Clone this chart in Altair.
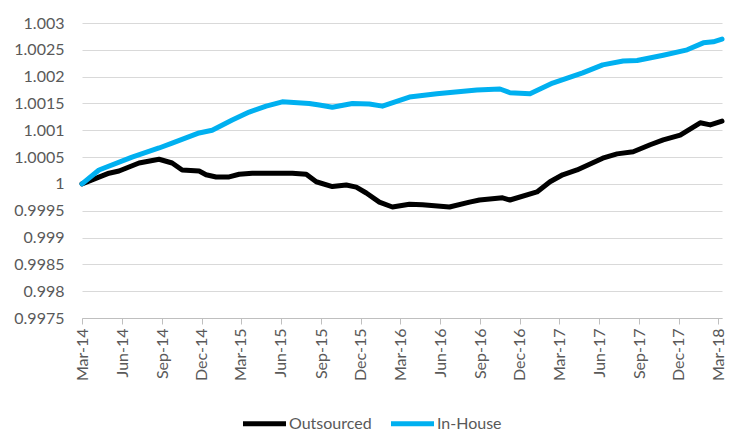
import altair as alt
import pandas as pd

# ---- data ----
out_dates = ["2014-03-01", "2014-05-02", "2014-05-25", "2014-07-10", "2014-08-25",
             "2014-09-24", "2014-10-17", "2014-11-25", "2014-12-11", "2015-01-03",
             "2015-02-02", "2015-02-25", "2015-03-27", "2015-06-27", "2015-07-29",
             "2015-08-21", "2015-09-27", "2015-10-29", "2015-11-21", "2015-12-14",
             "2016-01-13", "2016-02-12", "2016-03-22", "2016-04-21", "2016-06-22",
             "2016-08-07", "2016-08-30", "2016-10-22", "2016-11-08", "2017-01-09",
             "2017-02-08", "2017-03-09", "2017-04-11", "2017-06-09", "2017-07-12",
             "2017-08-18", "2017-09-26", "2017-10-26", "2017-12-04", "2018-01-19",
             "2018-02-11", "2018-03-10"]
out_values = [1.0, 1.0002, 1.00024, 1.00039, 1.00046,
              1.00039, 1.00026, 1.00024, 1.00017, 1.00013,
              1.00013, 1.00018, 1.0002, 1.0002, 1.00018,
              1.00004, 0.99995, 0.99998, 0.99994, 0.99983,
              0.99966, 0.99957, 0.99962, 0.99961, 0.99957,
              0.99966, 0.9997, 0.99974, 0.9997, 0.99985,
              1.00004, 1.00017, 1.00026, 1.00048, 1.00056,
              1.0006, 1.00073, 1.00082, 1.00091, 1.00114,
              1.0011, 1.00117]

in_dates = ["2014-03-01", "2014-04-09", "2014-06-24", "2014-08-25", "2014-09-24",
            "2014-11-25", "2014-12-25", "2015-02-09", "2015-03-20", "2015-04-28",
            "2015-06-04", "2015-08-05", "2015-08-28", "2015-09-27", "2015-11-12",
            "2015-12-21", "2016-01-20", "2016-03-22", "2016-05-24", "2016-08-24",
            "2016-10-16", "2016-11-08", "2016-12-24", "2017-02-14", "2017-04-24",
            "2017-06-09", "2017-07-26", "2017-08-27", "2017-10-26", "2017-12-20",
            "2018-01-26", "2018-02-18", "2018-03-10"]
in_values = [1.0, 1.00026, 1.0005, 1.00067, 1.00076,
             1.00095, 1.001, 1.00119, 1.00134, 1.00145,
             1.00153, 1.0015, 1.00147, 1.00143, 1.0015,
             1.00149, 1.00145, 1.00162, 1.00168, 1.00175,
             1.00177, 1.0017, 1.00168, 1.00188, 1.00207,
             1.00222, 1.00229, 1.0023, 1.0024, 1.0025,
             1.00263, 1.00265, 1.0027]

series_names = ["Outsourced", "In-House"]
series_colors = ["#000000", "#00B0F0"]

y_ticks = [0.9975, 0.998, 0.9985, 0.999, 0.9995, 1.0, 1.0005, 1.001, 1.0015,
           1.002, 1.0025, 1.003]
x_tick_months = [(2014, 3), (2014, 6), (2014, 9), (2014, 12),
                 (2015, 3), (2015, 6), (2015, 9), (2015, 12),
                 (2016, 3), (2016, 6), (2016, 9), (2016, 12),
                 (2017, 3), (2017, 6), (2017, 9), (2017, 12),
                 (2018, 3)]

# ---- table ----
df = pd.concat([
    pd.DataFrame({"date": [d + "T00:00:00" for d in out_dates], "value": out_values,
                  "series": series_names[0]}),
    pd.DataFrame({"date": [d + "T00:00:00" for d in in_dates], "value": in_values,
                  "series": series_names[1]}),
], ignore_index=True)

FONT = "Lato"
TXT = "#595959"
FS = 16

x_vals = [alt.DateTime(year=y, month=m, date=1) for y, m in x_tick_months]

chart = alt.Chart(df).mark_line(strokeWidth=5, strokeJoin="round", strokeCap="round").encode(
    x=alt.X("date:T",
            scale=alt.Scale(domain=[alt.DateTime(year=2014, month=3, date=1),
                                    alt.DateTime(year=2018, month=3, date=10)]),
            axis=alt.Axis(values=x_vals, format="%b-%y", labelAngle=-90, title=None,
                          grid=False, domainColor="#BFBFBF", tickColor="#BFBFBF",
                          tickSize=6, labelPadding=4, labelFont=FONT, labelFontSize=FS,
                          labelColor=TXT, labelOverlap=False, labelFlush=False)),
    y=alt.Y("value:Q",
            scale=alt.Scale(domain=[0.9975, 1.003], nice=False, zero=False),
            axis=alt.Axis(values=y_ticks, format="~r", title=None, domain=False,
                          ticks=False, gridColor="#D9D9D9", gridWidth=1,
                          labelPadding=18, labelFont=FONT, labelFontSize=FS,
                          labelColor=TXT)),
    color=alt.Color("series:N",
                    scale=alt.Scale(domain=series_names, range=series_colors),
                    sort=series_names,
                    legend=alt.Legend(title=None, orient="none", legendX=158, legendY=376,
                                      direction="horizontal", symbolType="stroke",
                                      symbolStrokeWidth=5, symbolSize=1850,
                                      labelFont=FONT, labelFontSize=FS, labelColor=TXT,
                                      labelOffset=0, columnPadding=8)),
    order=alt.Order("date:T"),
).properties(
    width=640, height=295,
    padding={"left": 74, "top": 15, "right": 15, "bottom": 120},
    autosize=alt.AutoSizeParams(type="none"),
).configure_view(stroke=None)

chart.save("out.html", embed_options={"renderer": "svg", "actions": False})
